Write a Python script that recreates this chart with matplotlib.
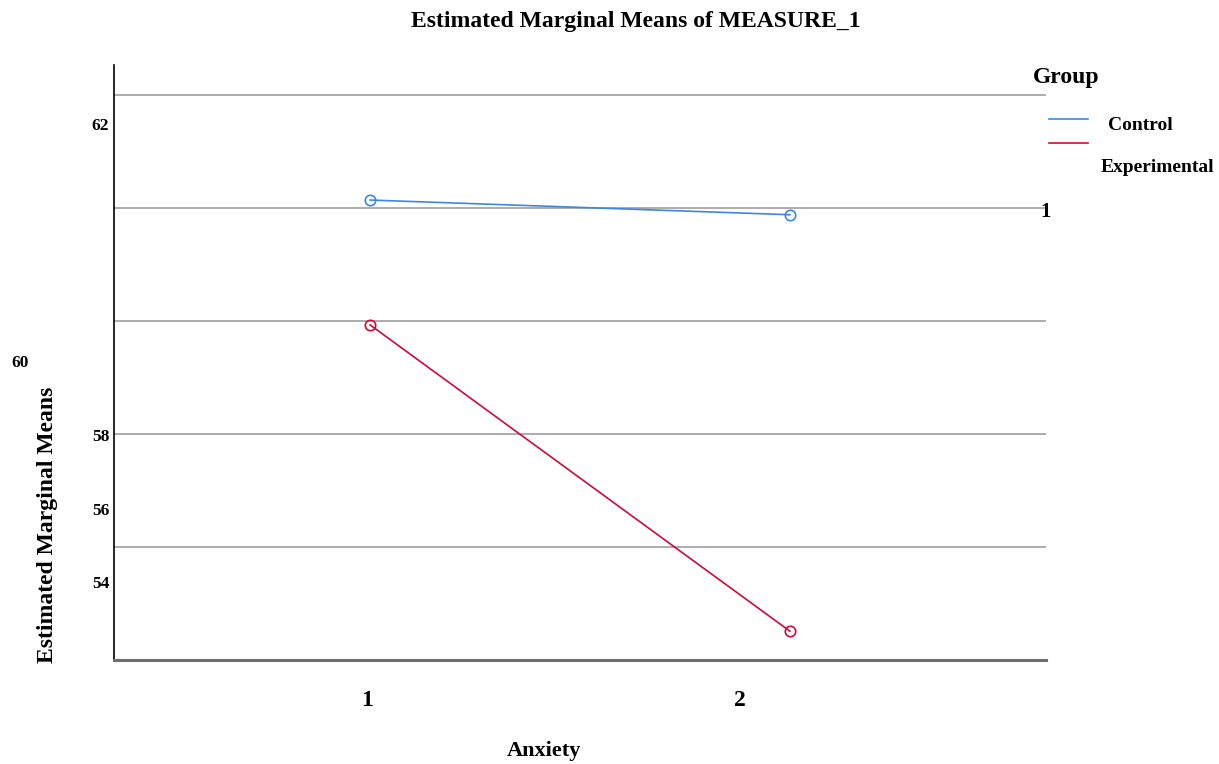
import matplotlib.pyplot as plt
import numpy as np

# data
anxiety = [1, 2]
control = [60.14, 59.88]
experimental = [57.93, 52.51]
grid_values = [52, 54, 56, 58, 60, 62]

# the odd, shifted labels as they appear in the export
ytick_labels = ['62', '60', '58', '56', '54']
ytick_pos = [(100, 126), (20, 363), (101, 437), (101, 511), (101, 584)]
xtick_labels = ['1', '2']
xtick_pos = [(367, 700), (740, 700)]

W, H = 1219, 764
fig = plt.figure(figsize=(W / 100, H / 100), dpi=100)
plt.rcParams['font.family'] = ['Liberation Serif', 'DejaVu Serif']


def px(x, y):
    return x / W, 1 - y / H


ax = fig.add_axes([114 / W, (H - 660) / H, 932 / W, 595 / H])
ax.set_xlim(0.39, 2.61)
ax.set_ylim(52, 62.53)

for g in grid_values:
    ax.axhline(g, color='#a6a6a6', lw=1.3, zorder=1)

ax.plot(anxiety, control, color='#3d87e0', lw=1.2, marker='o', ms=7.5,
        mfc='none', mec='#3d87e0', mew=1.2, zorder=3)
ax.plot(anxiety, experimental, color='#d0093a', lw=1.2, marker='o', ms=7.5,
        mfc='none', mec='#d0093a', mew=1.2, zorder=3)

ax.set_xticks([])
ax.set_yticks([])
for s in ['top', 'right']:
    ax.spines[s].set_visible(False)
ax.spines['left'].set_color('black')
ax.spines['left'].set_linewidth(1.2)
ax.spines['bottom'].set_color('#6e6e6e')
ax.spines['bottom'].set_linewidth(2.2)

bold = dict(fontweight='bold', color='black')

fig.text(*px(636, 22), 'Estimated Marginal Means of MEASURE_1', ha='center',
         va='center', fontsize=17, **bold)
for lab, (x, y) in zip(ytick_labels, ytick_pos):
    fig.text(*px(x, y), lab, ha='center', va='center', fontsize=12.5, **bold)
fig.text(*px(1046, 212), '1', ha='center', va='center', fontsize=15, **bold)
for lab, (x, y) in zip(xtick_labels, xtick_pos):
    fig.text(*px(x, y), lab, ha='center', va='center', fontsize=17, **bold)
fig.text(*px(544, 751), 'Anxiety', ha='center', va='center', fontsize=16, **bold)
fig.text(*px(48, 525), 'Estimated Marginal Means', ha='center', va='center',
         rotation=90, fontsize=17, **bold)

# legend drawn by hand, as placed in the export
fig.text(*px(1066, 77), 'Group', ha='center', va='center', fontsize=17, **bold)
fig.add_artist(plt.Line2D([1049 / W, 1088 / W], [1 - 119 / H] * 2,
                          color='#3d87e0', lw=1.2))
fig.add_artist(plt.Line2D([1049 / W, 1088 / W], [1 - 143 / H] * 2,
                          color='#d0093a', lw=1.2))
fig.text(*px(1140, 125), 'Control', ha='center', va='center', fontsize=14, **bold)
fig.text(*px(1157, 168), 'Experimental', ha='center', va='center', fontsize=14, **bold)

fig.savefig('out.png', dpi=100)
